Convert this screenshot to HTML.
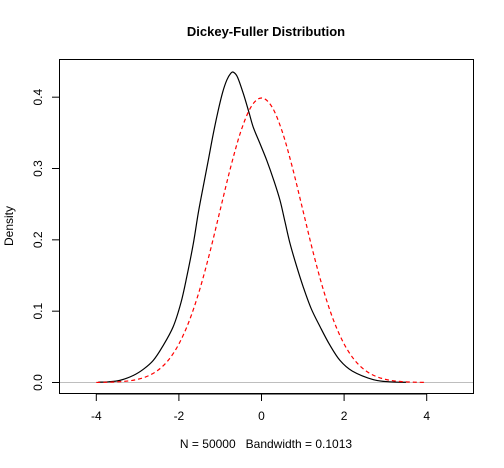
<!DOCTYPE html>
<html><head><meta charset="utf-8"><style>
html,body{margin:0;padding:0;background:#fff}
svg{display:block;font-family:"Liberation Sans",Arial,sans-serif}
</style></head><body>
<svg id="chart" width="504" height="468" viewBox="0 0 504 468" xmlns="http://www.w3.org/2000/svg">
<text x="266" y="36" text-anchor="middle" font-size="13" font-weight="bold">Dickey-Fuller Distribution</text>
<rect x="59.5" y="59.5" width="414" height="334" fill="none" stroke="#000" stroke-width="1"/>
<line x1="60" x2="473" y1="382.5" y2="382.5" stroke="#bebebe" stroke-width="1"/>
<g id="xaxis"></g>
<g id="yaxis"></g>
<g id="series"></g>
<text x="266" y="448" text-anchor="middle" font-size="12" style="white-space:pre" xml:space="preserve">N = 50000   Bandwidth = 0.1013</text>
<text transform="translate(13,226) rotate(-90)" text-anchor="middle" font-size="12">Density</text>
</svg>
<script>
const xTicks=[-4,-2,0,2,4];
const yTicks=[0.0,0.1,0.2,0.3,0.4];
const dfX=[-3.95,-3.7,-3.43,-3.1,-2.85,-2.62,-2.4,-2.14,-1.95,-1.81,-1.65,-1.53,-1.4,-1.29,-1.17,-1.05,-0.94,-0.84,-0.75,-0.68,-0.58,-0.44,-0.3,-0.2,-0.03,0.13,0.3,0.45,0.57,0.69,0.85,1.01,1.2,1.42,1.65,1.9,2.2,2.71,3.1,3.5];
const dfY=[0.0005,0.001,0.003,0.010,0.019,0.031,0.050,0.078,0.112,0.148,0.195,0.238,0.278,0.311,0.348,0.381,0.407,0.424,0.433,0.435,0.428,0.405,0.378,0.358,0.334,0.311,0.283,0.255,0.225,0.195,0.163,0.134,0.104,0.078,0.053,0.031,0.016,0.004,0.001,0.0003];
const nX=[-4,-3.75,-3.5,-3.25,-3,-2.75,-2.5,-2.25,-2,-1.75,-1.5,-1.25,-1,-0.75,-0.5,-0.25,0,0.25,0.5,0.75,1,1.25,1.5,1.75,2,2.25,2.5,2.75,3,3.25,3.5,3.75,4];
const nY=[0.0001,0.0004,0.0009,0.002,0.0044,0.0091,0.0175,0.0317,0.054,0.0863,0.1295,0.1826,0.242,0.3011,0.3521,0.3867,0.3989,0.3867,0.3521,0.3011,0.242,0.1826,0.1295,0.0863,0.054,0.0317,0.0175,0.0091,0.0044,0.002,0.0009,0.0004,0.0001];
const NS="http://www.w3.org/2000/svg";
const sx=v=>261.5+v*41.3;
const sy=v=>382.5-v*713.3;
function mk(tag,attrs,parent){const e=document.createElementNS(NS,tag);for(const k in attrs)e.setAttribute(k,attrs[k]);parent.appendChild(e);return e;}
const xa=document.getElementById('xaxis'),ya=document.getElementById('yaxis'),sg=document.getElementById('series');
mk('line',{x1:sx(xTicks[0]),x2:sx(xTicks[xTicks.length-1]),y1:394,y2:394,stroke:'#000'},xa);
xTicks.forEach(t=>{
  const l=mk('line',{x1:sx(t),x2:sx(t),y1:394,y2:401,stroke:'#000'},xa);
  
  
  const tx=mk('text',{x:sx(t),y:420,'text-anchor':'middle','font-size':12},xa);
  tx.textContent=String(t);
  
  
});
mk('line',{x1:59.5,x2:59.5,y1:sy(yTicks[0]),y2:sy(yTicks[yTicks.length-1]),stroke:'#000'},ya);
yTicks.forEach(t=>{
  const l=mk('line',{x1:52,x2:59.5,y1:sy(t),y2:sy(t),stroke:'#000'},ya);
  
  
  const tx=mk('text',{transform:`translate(42,${sy(t)}) rotate(-90)`,'text-anchor':'middle','font-size':12},ya);
  tx.textContent=t.toFixed(1);
  
  
});
function pathFor(xs,ys){
  const p=xs.map((x,i)=>[sx(x),sy(ys[i])]);
  let d=`M${p[0][0]},${p[0][1]}`;
  for(let i=0;i<p.length-1;i++){
    const p0=p[Math.max(i-1,0)],p1=p[i],p2=p[i+1],p3=p[Math.min(i+2,p.length-1)];
    const c1=[p1[0]+(p2[0]-p0[0])/6,p1[1]+(p2[1]-p0[1])/6];
    const c2=[p2[0]-(p3[0]-p1[0])/6,p2[1]-(p3[1]-p1[1])/6];
    d+=` C${c1[0]},${c1[1]} ${c2[0]},${c2[1]} ${p2[0]},${p2[1]}`;
  }
  return d;
}
const blk=mk('path',{d:pathFor(dfX,dfY),fill:'none',stroke:'#000','stroke-width':1.2},sg);


const red=mk('path',{d:pathFor(nX,nY),fill:'none',stroke:'#ff0000','stroke-width':1.2,'stroke-dasharray':'4,3'},sg);


</script>
</body></html>
